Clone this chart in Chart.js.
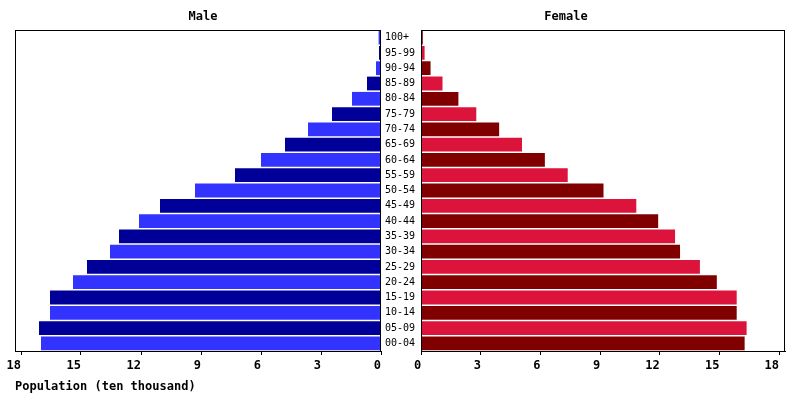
<!DOCTYPE html>
<html>
<head>
<meta charset="utf-8">
<script src="https://cdn.jsdelivr.net/npm/chart.js@4/dist/chart.umd.min.js"></script>
<style>
  body { margin: 0; background: #fff; }
  #wrap { position: relative; width: 800px; height: 400px; }
  .panel { position: absolute; top: 0; height: 400px; }
  #maleBox { left: 0; width: 420px; }
  #femaleBox { left: 410px; width: 390px; }
</style>
</head>
<body>
<div id="wrap">
  <div class="panel" id="maleBox"><canvas id="maleChart"></canvas></div>
  <div class="panel" id="femaleBox"><canvas id="femaleChart"></canvas></div>
</div>
<script>
// age groups, top of the pyramid first
const ageGroups = ['100+', '95-99', '90-94', '85-89', '80-84', '75-79', '70-74', '65-69', '60-64', '55-59',
  '50-54', '45-49', '40-44', '35-39', '30-34', '25-29', '20-24', '15-19', '10-14', '05-09', '00-04']
// population in ten thousands
const male = [0.12, 0.1, 0.25, 0.7, 1.45, 2.45, 3.65, 4.8, 6.0, 7.3,
  9.3, 11.05, 12.1, 13.1, 13.55, 14.7, 15.4, 16.55, 16.55, 17.1, 17.0]
const female = [0.08, 0.17, 0.47, 1.07, 1.87, 2.77, 3.92, 5.07, 6.22, 7.37,
  9.17, 10.82, 11.92, 12.77, 13.02, 14.02, 14.87, 15.87, 15.87, 16.37, 16.27]
const xTicks = [0, 3, 6, 9, 12, 15, 18]
const xMax = 18.3

const monoFont = "'DejaVu Sans Mono', monospace"
Chart.defaults.font.family = monoFont
Chart.defaults.color = '#000'

const maleColors = ageGroups.map((a, i) => i % 2 === 0 ? '#3333FF' : '#000099')
const femaleColors = ageGroups.map((a, i) => i % 2 === 0 ? '#800000' : '#DC143C')

// black frame round the plot area + panel title
const framePlugin = {
  id: 'frame',
  afterDraw(chart, args, opts) {
    const ctx = chart.ctx
    const a = chart.chartArea
    ctx.save()
    ctx.strokeStyle = '#000'
    ctx.lineWidth = 1
    ctx.strokeRect(Math.round(a.left) + 0.5, Math.round(a.top) + 0.5,
      Math.round(a.right - a.left) - 1, Math.round(a.bottom - a.top))
    ctx.font = 'bold 12px ' + monoFont
    ctx.fillStyle = '#000'
    ctx.textAlign = 'center'
    ctx.textBaseline = 'middle'
    ctx.fillText(opts.text, opts.x, 17)
    ctx.restore()
  }
}

function xScale(reverse, height) {
  return {
    type: 'linear',
    reverse: reverse,
    min: 0,
    max: xMax,
    afterBuildTicks: s => { s.ticks = xTicks.map(v => ({ value: v })) },
    afterFit: s => { s.height = height },
    grid: { drawOnChartArea: false, color: '#000', tickLength: 4 },
    border: { color: '#000' },
    ticks: { align: 'end', padding: 4, font: { size: 12, weight: 'bold' }, color: '#000' }
  }
}

new Chart(document.getElementById('maleChart'), {
  type: 'bar',
  data: {
    labels: ageGroups,
    datasets: [{
      label: 'Male',
      data: male,
      backgroundColor: maleColors,
      barPercentage: 0.9,
      categoryPercentage: 1
    }]
  },
  options: {
    indexAxis: 'y',
    responsive: true,
    maintainAspectRatio: false,
    animation: false,
    layout: { padding: { top: 30, left: 15, right: 1, bottom: 0 } },
    scales: {
      x: xScale(true, 23),
      y: {
        position: 'right',
        afterFit: s => { s.width = 38 },
        grid: { display: false, drawTicks: false },
        border: { display: false },
        ticks: { padding: 4, font: { size: 10 }, color: '#000' }
      }
    },
    plugins: {
      legend: { display: false },
      tooltip: { enabled: false },
      title: {
        display: true,
        text: 'Population (ten thousand)',
        position: 'bottom',
        align: 'start',
        color: '#000',
        font: { size: 12, weight: 'bold' },
        padding: { top: 6, bottom: 5.6 }
      },
      frame: { text: 'Male', x: 203 }
    }
  },
  plugins: [framePlugin]
})

new Chart(document.getElementById('femaleChart'), {
  type: 'bar',
  data: {
    labels: ageGroups,
    datasets: [{
      label: 'Female',
      data: female,
      backgroundColor: femaleColors,
      barPercentage: 0.9,
      categoryPercentage: 1
    }]
  },
  options: {
    indexAxis: 'y',
    responsive: true,
    maintainAspectRatio: false,
    animation: false,
    layout: { padding: { top: 30, left: 9, right: 15, bottom: 0 } },
    scales: {
      x: xScale(false, 49),
      y: { display: false }
    },
    plugins: {
      legend: { display: false },
      tooltip: { enabled: false },
      frame: { text: 'Female', x: 156 }
    }
  },
  plugins: [framePlugin]
})
</script>
</body>
</html>
